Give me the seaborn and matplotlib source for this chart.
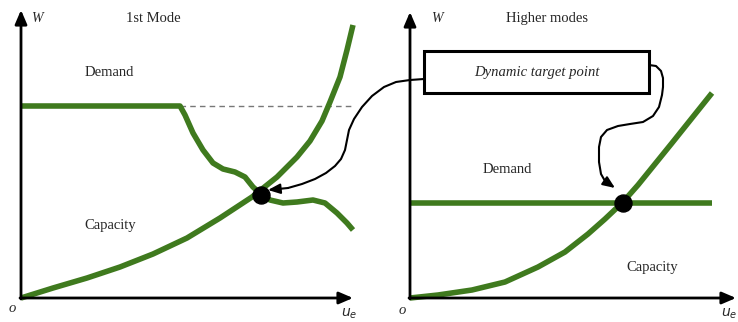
import matplotlib
matplotlib.use("Agg")
import matplotlib.pyplot as plt
import seaborn as sns
import pandas as pd
from matplotlib.patches import Rectangle

sns.set_theme(style="white")
plt.rcParams['font.family'] = ['Liberation Serif', 'DejaVu Serif']

GREEN = "#3f7a1e"

# panel origins (figure units, y up)
left_origin = (21, 24)
right_origin = (410, 24)

# ---- Left panel (1st Mode), local u / W units ----
left_demand_u = [0, 159, 164, 172, 182, 192, 202, 214, 224, 232, 241, 249, 262, 276, 292, 304, 316, 326, 332]
left_demand_w = [192, 192, 183, 165, 148, 135, 129, 126, 121, 111, 103, 98, 95, 96, 98, 95, 85, 75, 68]
left_cap_u = [0, 32, 66, 99, 132, 166, 199, 231, 256, 276, 289, 301, 309, 319, 326, 332]
left_cap_w = [0, 10, 20, 31, 44, 60, 80, 101, 121, 141, 157, 177, 196, 221, 248, 273]
left_target = (240, 103)
left_ref_level = 192
left_ref_start, left_ref_end = 159, 332

# ---- Right panel (Higher modes) ----
right_cap_u = [0, 28, 62, 95, 128, 155, 178, 195, 213, 228, 262, 302]
right_cap_w = [0, 3, 8, 16, 31, 46, 64, 79, 96, 113, 155, 205]
right_demand_u = [0, 302]
right_demand_w = [95, 95]
right_target = (213, 95)

# annotation arrow paths (figure units)
arrow1_x = [424, 410, 396, 384, 372, 362, 354, 349, 347, 345, 341, 335, 326, 315, 302, 288, 268]
arrow1_y = [243, 242, 240, 235, 226, 215, 203, 192, 182, 172, 163, 156, 149, 143, 138, 134, 132]
arrow2_x = [649, 656, 661, 663, 663, 662, 659, 653, 643, 630, 618, 607, 601, 599, 599, 601, 605, 615]
arrow2_y = [257, 256, 251, 244, 235, 227, 215, 206, 200, 198, 196, 192, 185, 175, 160, 148, 141, 134]

fig = plt.figure(figsize=(7.38, 3.22), dpi=100)
ax = fig.add_axes([0, 0, 1, 1])
ax.set_xlim(0, 738)
ax.set_ylim(0, 322)
ax.axis("off")

def shift(us, ws, origin):
    return [origin[0] + u for u in us], [origin[1] + w for w in ws]

def curve(us, ws, origin, **kw):
    x, y = shift(us, ws, origin)
    df = pd.DataFrame({"x": x, "y": y})
    sns.lineplot(data=df, x="x", y="y", sort=False, estimator=None, ax=ax,
                 legend=False, **kw)

# axes arrows
for org, xend, yend in [(left_origin, 353, 312), (right_origin, 736, 310)]:
    ax.annotate("", xy=(xend, org[1]), xytext=(org[0] - 1, org[1]),
                arrowprops=dict(arrowstyle="-|>,head_length=0.7,head_width=0.3", color="black", lw=2, shrinkA=0, shrinkB=0))
    ax.annotate("", xy=(org[0], yend), xytext=(org[0], org[1] - 1),
                arrowprops=dict(arrowstyle="-|>,head_length=0.7,head_width=0.3", color="black", lw=2, shrinkA=0, shrinkB=0))

# dashed reference line
curve([left_ref_start, left_ref_end], [left_ref_level, left_ref_level], left_origin,
      color="#777777", lw=1, linestyle=(0, (4, 3)))

# curves
kw = dict(color=GREEN, lw=4, solid_capstyle="butt", solid_joinstyle="round")
curve(left_demand_u, left_demand_w, left_origin, **kw)
curve(left_cap_u, left_cap_w, left_origin, **kw)
curve(right_demand_u, right_demand_w, right_origin, **kw)
curve(right_cap_u, right_cap_w, right_origin, **kw)

# target points
for (u, w), org in [(left_target, left_origin), (right_target, right_origin)]:
    ax.scatter([org[0] + u], [org[1] + w], s=150, color="black", zorder=5)

# box
ax.add_patch(Rectangle((424, 229), 225, 42, fill=False, edgecolor="black", lw=2.2, zorder=4))
ax.text(537, 250, "Dynamic target point", style="italic", fontsize=10.5, ha="center", va="center")

# annotation arrows
for xs, ys in [(arrow1_x, arrow1_y), (arrow2_x, arrow2_y)]:
    df = pd.DataFrame({"x": xs[:-1], "y": ys[:-1]})
    sns.lineplot(data=df, x="x", y="y", sort=False, estimator=None, ax=ax,
                 color="black", lw=1.5, legend=False)
    ax.annotate("", xy=(xs[-1], ys[-1]), xytext=(xs[-2], ys[-2]),
                arrowprops=dict(arrowstyle="-|>,head_length=0.6,head_width=0.25", color="black", lw=1.5, shrinkA=0, shrinkB=0))

# texts
fs = 10.5
ax.text(153, 304, "1st Mode", fontsize=fs, ha="center", va="center")
ax.text(547, 304, "Higher modes", fontsize=fs, ha="center", va="center")
ax.text(37, 304, "W", style="italic", fontsize=10, ha="center", va="center")
ax.text(437, 304, "W", style="italic", fontsize=10, ha="center", va="center")
ax.text(109, 250, "Demand", fontsize=fs, ha="center", va="center")
ax.text(110, 97, "Capacity", fontsize=fs, ha="center", va="center")
ax.text(507, 153, "Demand", fontsize=fs, ha="center", va="center")
ax.text(652, 55, "Capacity", fontsize=fs, ha="center", va="center")
ax.text(12, 14, "o", style="italic", fontsize=fs, ha="center", va="center")
ax.text(402, 12, "o", style="italic", fontsize=fs, ha="center", va="center")
ax.text(349, 8, r"$u_e$", fontsize=10, ha="center", va="center", family="DejaVu Serif")
ax.text(729, 8, r"$u_e$", fontsize=10, ha="center", va="center", family="DejaVu Serif")

fig.savefig("out.png", dpi=100)
